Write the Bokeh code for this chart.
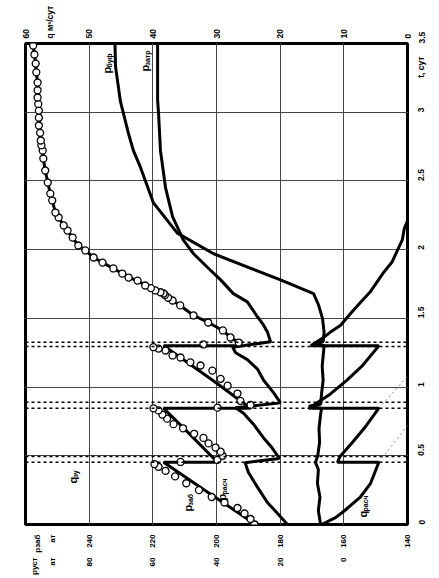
import math
from bokeh.plotting import figure
from bokeh.models import Range1d, LinearAxis, FixedTicker, Label, Span, Grid
from bokeh.embed import file_html
from bokeh.resources import INLINE

# ---------------- data ----------------
t_ticks = [0, 0.5, 1, 1.5, 2, 2.5, 3, 3.5]
t_tick_labels = ["0", "0.5", "1", "1.5", "2", "2.5", "3", "3.5"]
q_ticks = [0, 10, 20, 30, 40, 50, 60]
pzab_ticks = [140, 160, 180, 200, 220, 240]
pust_ticks = [0, 20, 40, 60, 80]
stop_times = [0.453, 0.495, 0.846, 0.89, 1.295, 1.327]

# axis-name texts and where they sit along their axis (axis units)
q_title, q_title_at = "q м³/сут", 56.1
t_title, t_title_at = "t, сут", 3.25
pzab_title, pzab_title_at = "pзаб", 256.2
pust_title, pust_title_at = "pуст", 97.2
unit_text, pzab_unit_at, pust_unit_at = "ат", 251.5, 91.5

# bottom-hole pressure p_заб (at), measured
t_pzab = [0.0, 0.10, 0.25, 0.453, 0.453, 0.65, 0.846, 0.846, 1.05, 1.30, 1.30]
p_zab = [187.7, 194.1, 203.7, 216.6, 199.7, 208.1, 216.6, 189.3, 201.2, 216.6, 193.1]

# calculated p_расч (circles)
t_prasch = [0.00, 0.04, 0.08, 0.12, 0.16, 0.20, 0.25, 0.30, 0.35, 0.39, 0.42, 0.44,
            0.455, 0.47, 0.50, 0.53, 0.56, 0.59, 0.63, 0.66, 0.70, 0.73, 0.77, 0.80, 0.83, 0.845,
            0.85, 0.87, 0.90, 0.953, 1.01, 1.06, 1.12, 1.157, 1.18, 1.215, 1.23, 1.266, 1.28, 1.29, 1.31]
p_prasch = [188.1, 189.3, 191.2, 193.4, 197.5, 201.5, 205.5, 209.5, 213.0, 216.0, 218.2, 219.5,
            211.3, 199.7, 198.1, 198.7, 200.3, 202.5, 204.1, 207.0, 210.5, 213.5, 215.5, 217.0, 218.2, 219.8,
            199.7, 189.3, 192.5, 193.4, 196.5, 198.7, 201.3, 205.0, 208.2, 211.3, 213.8, 216.0, 218.2, 219.8, 204.1]

# flow rate at metering unit q_зу (m3/day), line + circles
t_qzu = [1.30, 1.324, 1.361, 1.412, 1.470, 1.521, 1.594, 1.630, 1.65, 1.67, 1.681, 1.69, 1.703, 1.72,
         1.739, 1.775, 1.797, 1.826, 1.863, 1.906, 1.943, 1.994, 2.030, 2.088, 2.139, 2.176, 2.234,
         2.270, 2.358, 2.408, 2.488, 2.576, 2.663, 2.721, 2.76, 2.794, 2.85, 2.903, 2.96, 3.012,
         3.06, 3.107, 3.16, 3.216, 3.29, 3.354, 3.42, 3.485]
q_zu = [26.5, 26.5, 27.8, 29.0, 31.3, 33.6, 35.7, 36.9, 37.6, 38.1, 38.3, 38.8, 39.6, 40.3,
        41.2, 42.4, 43.8, 44.8, 46.2, 47.9, 49.3, 50.6, 51.7, 52.6, 53.4, 54.0, 54.8,
        55.3, 55.8, 56.1, 56.5, 56.9, 57.2, 57.3, 57.5, 57.6, 57.7, 57.9, 57.9, 57.9,
        58.0, 58.1, 58.1, 58.1, 58.3, 58.4, 58.6, 58.8]

# annulus pressure p_затр (at)
t_pzatr = [0.00, 0.08, 0.16, 0.27, 0.38, 0.45, 0.48, 0.50, 0.56, 0.63, 0.73, 0.81, 0.85, 0.885,
           0.96, 1.05, 1.13, 1.20, 1.25, 1.29, 1.33, 1.40, 1.45, 1.51, 1.62, 1.68, 1.78, 1.87,
           1.97, 2.07, 2.24, 2.45, 2.72, 2.99, 3.09, 3.50]
p_zatr = [17.7, 20.8, 24.0, 27.1, 30.0, 31.0, 20.3, 20.8, 22.6, 25.2, 28.4, 31.5, 34.0, 19.9,
          22.1, 25.2, 27.1, 30.3, 34.0, 34.9, 23.0, 24.0, 25.2, 27.1, 30.3, 34.7, 38.7, 42.8,
          47.2, 50.4, 53.8, 56.0, 57.6, 58.2, 58.5, 58.5]

# tubing head pressure p_буф (at)
t_pbuf = [0.00, 0.10, 0.20, 0.30, 0.40, 0.45, 0.50, 0.60, 0.70, 0.80, 0.845, 0.86, 0.875,
          0.95, 1.05, 1.15, 1.25, 1.30, 1.315, 1.33, 1.40, 1.50, 1.60, 1.68, 1.78, 1.97,
          2.12, 2.34, 2.60, 2.72, 2.84, 3.08, 3.33, 3.50]
p_buf = [7.3, 8.0, 7.5, 8.3, 8.0, 8.9, 8.2, 7.6, 7.8, 7.3, 7.0, 11.0, 7.3,
         7.0, 6.5, 6.8, 6.4, 6.2, 9.5, 6.5, 6.2, 6.7, 8.0, 9.5, 19.9, 40.9,
         52.3, 59.8, 63.9, 66.1, 67.6, 70.2, 71.7, 71.9]

# calculated flow rate q_расч (m3/day)
t_qrasch = [0.00, 0.05, 0.10, 0.20, 0.30, 0.453, 0.453, 0.495, 0.60, 0.70, 0.846, 0.846, 0.95, 1.05,
            1.15, 1.30, 1.30, 1.36, 1.40, 1.45, 1.535, 1.616, 1.696, 1.831, 1.912, 1.992, 2.073,
            2.154, 2.21]
q_rasch = [13.5, 11.3, 9.9, 7.4, 5.8, 4.5, 11.0, 10.6, 8.6, 6.8, 4.5, 15.5, 12.1, 9.5,
           7.2, 4.5, 15.2, 13.2, 12.1, 10.5, 8.95, 7.4, 5.8, 3.8, 2.4, 1.6, 0.8,
           0.5, 0.0]

# faint dotted continuations of q_расч after the stops
t_qdot1 = [0.453, 0.72]
q_dot1 = [4.5, 0.0]
t_qdot2 = [0.846, 1.08]
q_dot2 = [4.5, 0.0]

# ---------------- figure ----------------
FONT = "Liberation Sans"

p = figure(width=439, height=578, output_backend="svg", toolbar_location=None,
           x_range=Range1d(260, 140), y_range=Range1d(0, 3.5),
           x_axis_location=None, y_axis_location=None,
           min_border_left=25, min_border_top=43, min_border_right=32, min_border_bottom=54)
p.extra_x_ranges = {"q": Range1d(60, 0), "pu": Range1d(100, -20)}
p.outline_line_color = "black"
p.outline_line_width = 3
p.background_fill_color = "white"
p.border_fill_color = "white"


def style_axis(ax, standoff, size="8.5px"):
    ax.axis_line_color = None
    ax.major_tick_line_color = None
    ax.minor_tick_line_color = None
    ax.major_tick_out = 0
    ax.major_tick_in = 0
    ax.major_label_orientation = math.pi / 2
    ax.major_label_standoff = standoff
    ax.major_label_text_font = FONT
    ax.major_label_text_font_size = size
    ax.major_label_text_font_style = "bold"
    ax.major_label_text_color = "black"


ax_q = LinearAxis(x_range_name="q", ticker=FixedTicker(ticks=q_ticks + [q_title_at]))
style_axis(ax_q, 5)
ax_q.major_label_overrides = {q_title_at: q_title}
p.add_layout(ax_q, "above")

ax_pz = LinearAxis(ticker=FixedTicker(ticks=pzab_ticks + [pzab_title_at, pzab_unit_at]))
style_axis(ax_pz, 10, "8px")
ax_pz.major_label_overrides = {pzab_title_at: pzab_title, pzab_unit_at: unit_text}
p.add_layout(ax_pz, "below")

ax_pu = LinearAxis(x_range_name="pu",
                   ticker=FixedTicker(ticks=pust_ticks + [pust_title_at, pust_unit_at]))
style_axis(ax_pu, 2, "8px")
ax_pu.major_label_overrides = {pust_title_at: pust_title, pust_unit_at: unit_text}
p.add_layout(ax_pu, "below")

ax_t = LinearAxis(ticker=FixedTicker(ticks=t_ticks + [t_title_at]))
style_axis(ax_t, 14)
ov = {tk: lb for tk, lb in zip(t_ticks, t_tick_labels)}
ov[t_title_at] = t_title
ax_t.major_label_overrides = ov
p.add_layout(ax_t, "right")

p.add_layout(Grid(dimension=0, ticker=FixedTicker(ticks=pzab_ticks[1:]),
                  grid_line_color="#444444", grid_line_width=1))
p.add_layout(Grid(dimension=1, ticker=FixedTicker(ticks=t_ticks[1:-1]),
                  grid_line_color="#444444", grid_line_width=1))

for ts in stop_times:
    p.add_layout(Span(location=ts, dimension="width", line_color="black",
                      line_width=1.5, line_dash="3 3"))

LW = 3
p.line(q_dot1, t_qdot1, x_range_name="q", line_color="#888888", line_width=1, line_dash="2 3")
p.line(q_dot2, t_qdot2, x_range_name="q", line_color="#888888", line_width=1, line_dash="2 3")
p.line(p_zab, t_pzab, line_color="black", line_width=LW)
p.line(p_zatr, t_pzatr, x_range_name="pu", line_color="black", line_width=LW)
p.line(p_buf, t_pbuf, x_range_name="pu", line_color="black", line_width=LW)
p.line(q_rasch, t_qrasch, x_range_name="q", line_color="black", line_width=LW)
p.line(q_zu, t_qzu, x_range_name="q", line_color="black", line_width=LW)
p.scatter(p_prasch, t_prasch, marker="circle", size=7, fill_color="white",
          line_color="black", line_width=1.3)
p.scatter(q_zu[1:], t_qzu[1:], x_range_name="q", marker="circle", size=7,
          fill_color="white", line_color="black", line_width=1.3)


# ---------------- in-plot texts ----------------
def X(px):
    return 260 - (px - 25) * 120 / 382


def Y(py):
    return (524 - py) * 3.5 / 481


def txt(s, px, py, size="9px", align="left", style="bold"):
    p.add_layout(Label(x=X(px), y=Y(py), text=s, angle=math.pi / 2,
                       text_align=align, text_baseline="middle",
                       text_font=FONT, text_font_size=size,
                       text_font_style=style, text_color="black"))


def subtxt(main, sub, px, py, main_w=6):
    txt(main, px, py, size="11px")
    txt(sub, px + 3, py - main_w, size="7px")


subtxt("q", "зу", 72, 483)
subtxt("p", "заб", 187, 511)
subtxt("p", "расч", 221, 500)
subtxt("q", "расч", 362, 517)
subtxt("p", "буф", 106, 73)
subtxt("p", "затр", 144, 71)

open("out.html", "w").write(file_html(p, INLINE))
